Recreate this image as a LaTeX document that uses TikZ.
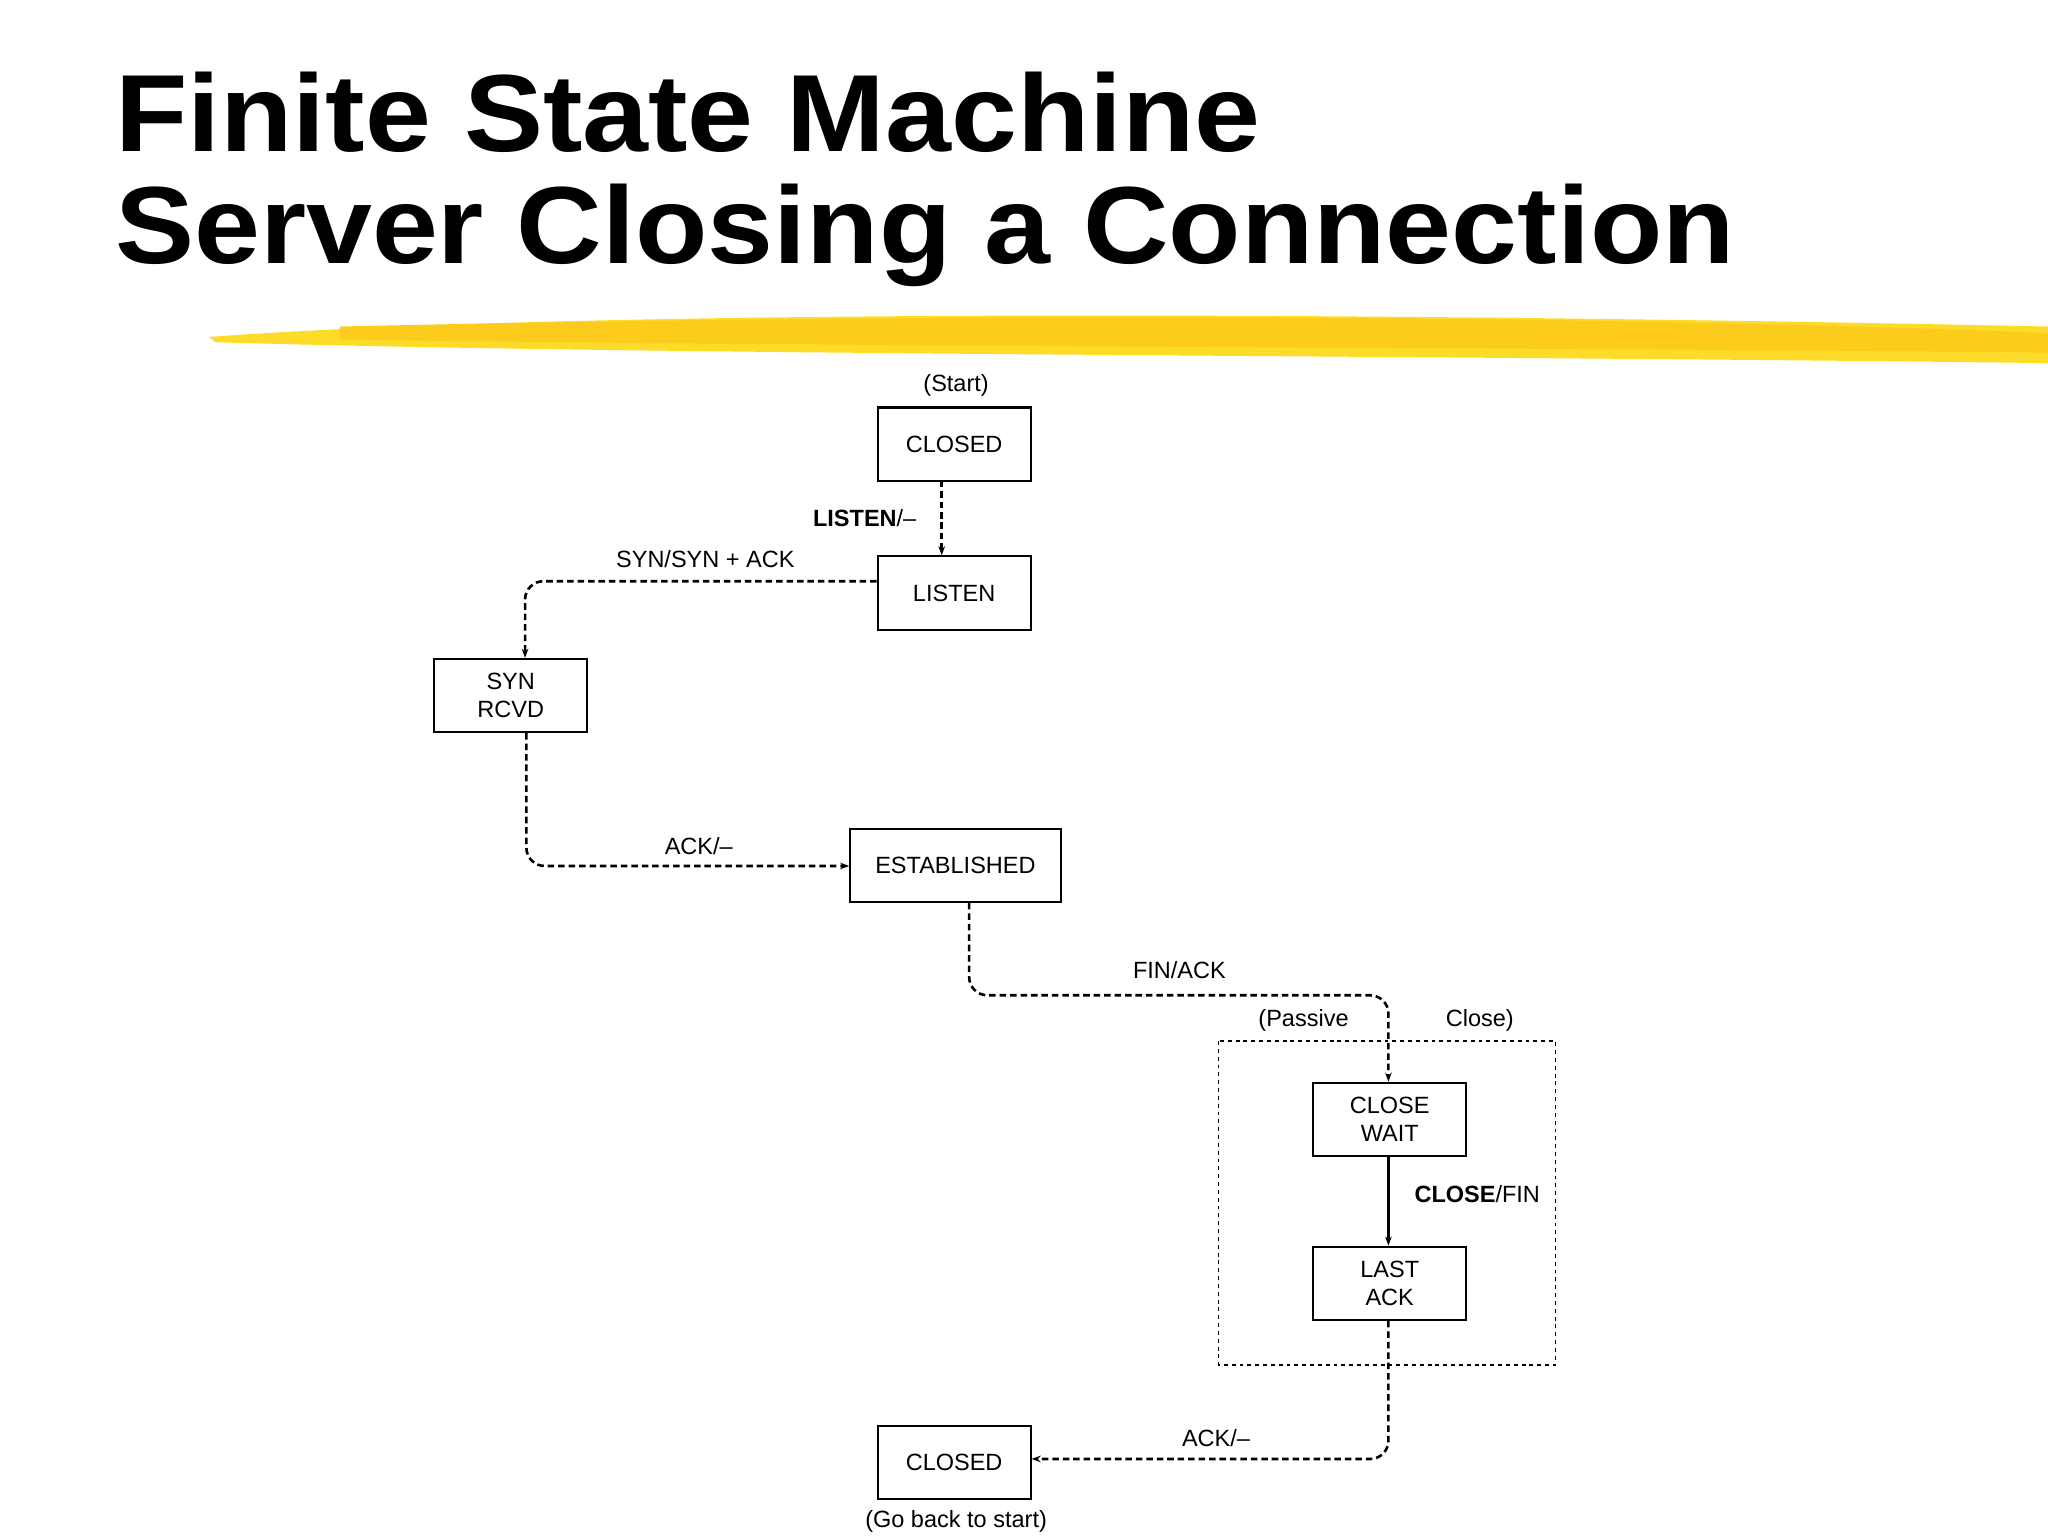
\documentclass[tikz,border=0pt]{standalone}
\usepackage{fontspec}
\setmainfont{Liberation Sans}
\usetikzlibrary{arrows.meta}
\begin{document}
\begin{tikzpicture}[x=1pt,y=-1pt,
  st/.style={draw,line width=1.6pt,minimum width=117pt,minimum height=56pt,font=\fontsize{18}{21}\selectfont,align=center,inner sep=0pt},
  lab/.style={font=\fontsize{18}{21}\selectfont},
  dl/.style={dashed,line width=2pt,dash pattern=on 5pt off 3pt,rounded corners=14pt,-{Stealth[length=7pt,width=5pt]}},
  sl/.style={line width=2.6pt,-{Stealth[length=7pt,width=5pt]}},
  ttl/.style={anchor=west,font=\fontsize{84}{90}\selectfont\bfseries,xscale=1.08,inner sep=0pt}]
\useasboundingbox[fill=white] (0,0) rectangle (1568,1176);
\node[ttl] (t1) at (88,86) {Finite State Machine};
\node[ttl] (t2) at (88,180) {Server Closing a Connection};
\fill[yellow!75!orange,opacity=0.85] (160,258) .. controls (400,240) and (900,236) .. (1568,250) -- (1568,278) .. controls (1100,272) and (500,272) .. (165,262) -- cycle;
\fill[yellow!60!orange!90] (260,250) .. controls (700,240) and (1200,240) .. (1568,255) -- (1568,270) .. controls (1200,266) and (700,266) .. (260,260) -- cycle;
\node[st] (c1) at (730.5,340) {CLOSED};
\node[lab] (s) at (732,295) {(Start)};
\node[st] (li) at (730.5,454) {LISTEN};
\node[st] (sr) at (391,532.5) {SYN\\RCVD};
\node[st,minimum width=161pt] (es) at (731.5,662.5) {ESTABLISHED};
\node[st] (cw) at (1064,857) {CLOSE\\WAIT};
\node[st] (la) at (1064,982.5) {LAST\\ACK};
\node[st] (c2) at (730.5,1120) {CLOSED};
\node[lab] (g) at (732,1165) {(Go back to start)};
\draw[dashed,line width=1.2pt] (933,797) rectangle (1191,1045);
\coordinate (a) at (721,368);
\draw[dl] (a) -- (a|-li.north);
\node[lab] at (662,397) {\textbf{LISTEN}/–};
\draw[dl] (li.west|-0,445) -- (402,445) -- (sr.north-|402,0);
\node[lab] at (540,428) {SYN/SYN + ACK};
\draw[dl] (sr.south-|403,0) -- (403,663) -- (es.west|-0,663);
\node[lab] at (535,648) {ACK/–};
\draw[dl] (es.south-|742,0) -- (742,762) -- (1063,762) -- (cw.north-|1063,0);
\node[lab] at (903,743) {FIN/ACK};
\node[lab] at (998,781) {(Passive};
\node[lab] at (1133,781) {Close)};
\draw[sl] (cw.south-|1063,0) -- (la.north-|1063,0);
\node[lab] at (1131,914) {\textbf{CLOSE}/FIN};
\draw[dl] (la.south-|1063,0) -- (1063,1117) -- (c2.east|-0,1117);
\node[lab] at (931,1101) {ACK/–};
\end{tikzpicture}
\end{document}
